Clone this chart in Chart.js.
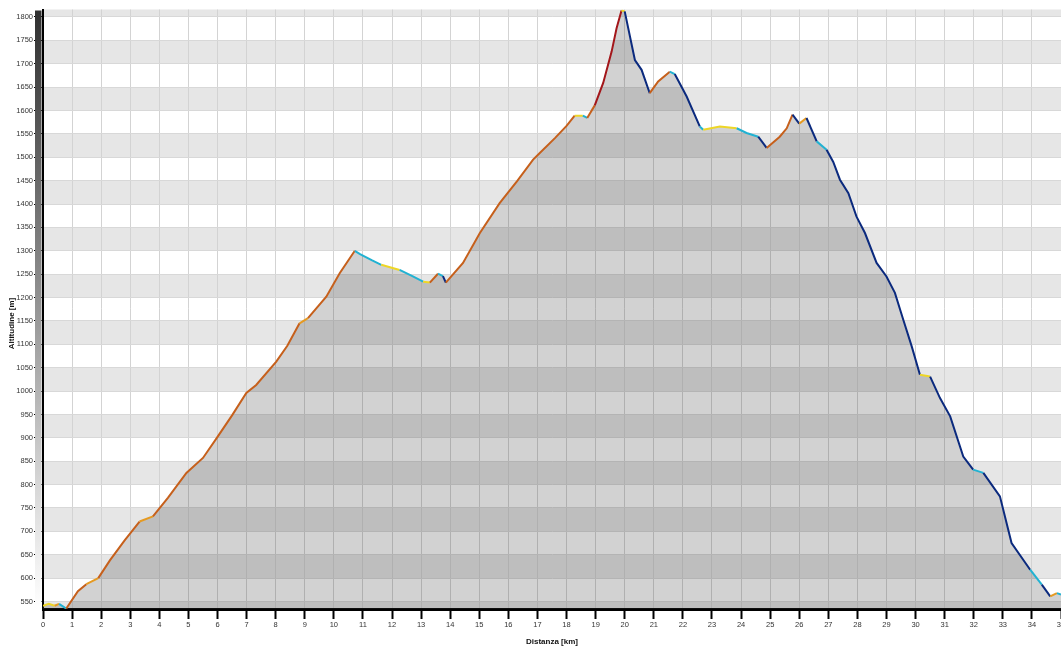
<!DOCTYPE html>
<html>
<head>
<meta charset="utf-8">
<script src="https://cdn.jsdelivr.net/npm/chart.js@4"></script>
<style>
  html, body { margin: 0; padding: 0; background: #ffffff; }
  canvas { display: block; }
</style>
</head>
<body>
<canvas id="c" width="1061" height="647"></canvas>
<script>
// ---- data ----
const distanceKm = [0.0, 0.2, 0.4, 0.55, 0.8, 1.2, 1.49, 1.9, 2.3, 2.8, 3.32, 3.78, 4.3, 4.93, 5.5, 6.0, 6.5, 6.99, 7.33, 8.02, 8.4, 8.82, 9.11, 9.74, 10.2, 10.72, 10.9, 11.3, 11.63, 12.26, 12.7, 13.07, 13.3, 13.58, 13.75, 13.85, 14.44, 15.02, 15.7, 16.3, 16.85, 17.08, 17.6, 18.0, 18.28, 18.56, 18.71, 18.97, 19.26, 19.55, 19.72, 19.89, 20.0, 20.35, 20.58, 20.86, 21.15, 21.55, 21.72, 22.13, 22.58, 22.7, 23.27, 23.85, 24.19, 24.59, 24.88, 25.33, 25.57, 25.77, 26.0, 26.25, 26.6, 26.94, 27.17, 27.4, 27.69, 27.97, 28.26, 28.66, 29.0, 29.29, 29.58, 29.87, 30.15, 30.5, 30.84, 31.19, 31.64, 31.98, 32.33, 32.9, 33.3, 33.94, 34.34, 34.63, 34.86, 35.0];
const altitudeM = [541, 545, 541, 545, 535, 572, 587, 600, 638, 680, 721, 732, 772, 825, 857, 902, 948, 996, 1013, 1063, 1097, 1145, 1156, 1202, 1252, 1300, 1293, 1280, 1270, 1259, 1246, 1234, 1232, 1251, 1246, 1232, 1274, 1338, 1402, 1449, 1495, 1509, 1541, 1567, 1589, 1589, 1584, 1611, 1659, 1726, 1776, 1814, 1812, 1708, 1687, 1637, 1662, 1683, 1678, 1630, 1566, 1559, 1566, 1562, 1552, 1544, 1520, 1544, 1562, 1591, 1572, 1584, 1534, 1516, 1490, 1452, 1423, 1373, 1338, 1274, 1245, 1210, 1152, 1095, 1035, 1031, 985, 946, 860, 832, 825, 775, 675, 618, 586, 561, 568, 565];
const xTicks = Array.from({length: 36}, (_, i) => i);           // 0 .. 35 km
const yTickLabels = [550,600,650,700,750,800,850,900,950,1000,1050,1100,1150,1200,1250,1300,1350,1400,1450,1500,1550,1600,1650,1700,1750,1800];

const points = distanceKm.map((d, i) => ({x: d, y: altitudeM[i]}));

function gradeColor(g) {
  if (g > 0.15) return '#a3161a';
  if (g > 0.05) return '#c6601c';
  if (g > 0.02) return '#e59a22';
  if (g >= -0.02) return '#eed626';
  if (g >= -0.08) return '#22b2d2';
  return '#0b2a7e';
}

const bandsPlugin = {
  id: 'bands',
  beforeDraw(chart) {
    const {ctx, chartArea: a, scales: {y}} = chart;
    ctx.save();
    ctx.fillStyle = '#ffffff';
    ctx.fillRect(a.left, a.top, a.right - a.left, a.bottom - a.top);
    ctx.beginPath();
    ctx.rect(a.left, a.top, a.right - a.left, a.bottom - a.top);
    ctx.clip();
    ctx.fillStyle = '#e6e6e6';
    for (let v = 500; v <= 1800; v += 100) {
      const y1 = y.getPixelForValue(v + 50), y0 = y.getPixelForValue(v);
      ctx.fillRect(a.left, y1, a.right - a.left, y0 - y1);
    }
    ctx.restore();
  },
  afterDraw(chart) {
    const {ctx, chartArea: a} = chart;
    ctx.save();
    const g = ctx.createLinearGradient(0, a.top, 0, a.bottom);
    g.addColorStop(0, '#2f2f2f');
    g.addColorStop(0.45, '#8a8a8a');
    g.addColorStop(0.8, '#d8d8d8');
    g.addColorStop(1, '#ffffff');
    ctx.fillStyle = g;
    ctx.fillRect(a.left - 8, a.top + 1, 6.5, a.bottom - a.top - 1);
    // y axis title, centred on the canvas height
    ctx.translate(12, chart.height / 2);
    ctx.rotate(-Math.PI / 2);
    ctx.fillStyle = '#111';
    ctx.font = 'bold 8px "Liberation Sans", Arial, sans-serif';
    ctx.textAlign = 'center';
    ctx.textBaseline = 'middle';
    ctx.fillText('Altitudine [m]', 0, 0);
    ctx.restore();
  }
};

new Chart(document.getElementById('c'), {
  type: 'line',
  data: {
    datasets: [{
      // coloured profile line (colour by grade)
      data: points,
      borderWidth: 2,
      pointRadius: 0,
      tension: 0,
      fill: false,
      borderColor: '#c6601c',
      segment: {
        borderColor: c => gradeColor((c.p1.parsed.y - c.p0.parsed.y) / ((c.p1.parsed.x - c.p0.parsed.x) * 1000))
      },
      order: 0
    }, {
      // grey area under the profile
      data: points,
      borderWidth: 0,
      borderColor: 'rgba(0,0,0,0)',
      pointRadius: 0,
      tension: 0,
      fill: 'start',
      backgroundColor: 'rgba(60,60,60,0.23)',
      order: 1
    }]
  },
  options: {
    responsive: false,
    animation: false,
    layout: { padding: { top: 9.5, left: 0, right: 0, bottom: 0 } },
    plugins: { legend: { display: false }, tooltip: { enabled: false } },
    scales: {
      x: {
        type: 'linear',
        min: 0, max: 35,
        afterBuildTicks: s => { s.ticks = xTicks.map(v => ({value: v})); },
        afterFit: s => { s.height = 38; s.paddingLeft = 0; s.paddingRight = 0; },
        ticks: {
          autoSkip: false, maxRotation: 0, padding: 1,
          color: '#333',
          callback: v => String(v),
          font: { family: '"Liberation Sans", Arial, sans-serif', size: 7.5 }
        },
        grid: { color: '#d3d3d3', lineWidth: 1, tickColor: '#000', tickWidth: 2, tickLength: 10 },
        border: { color: '#000', width: 3 },
        title: {
          display: true, text: 'Distanza [km]', color: '#111', padding: 0,
          font: { family: '"Liberation Sans", Arial, sans-serif', size: 8, weight: 'bold' }
        }
      },
      y: {
        type: 'linear',
        min: 534, max: 1816,
        afterBuildTicks: s => { s.ticks = yTickLabels.map(v => ({value: v})); },
        afterFit: s => { s.width = 43; s.paddingTop = 0; s.paddingBottom = 0; },
        ticks: {
          padding: 1, color: '#333',
          callback: v => String(v),
          font: { family: '"Liberation Sans", Arial, sans-serif', size: 7.5 }
        },
        grid: { color: '#d8d8d8', lineWidth: 1, tickColor: '#000', tickWidth: 1, tickLength: 9 },
        border: { color: '#000', width: 2 }
      }
    }
  },
  plugins: [bandsPlugin]
});
</script>
</body>
</html>
